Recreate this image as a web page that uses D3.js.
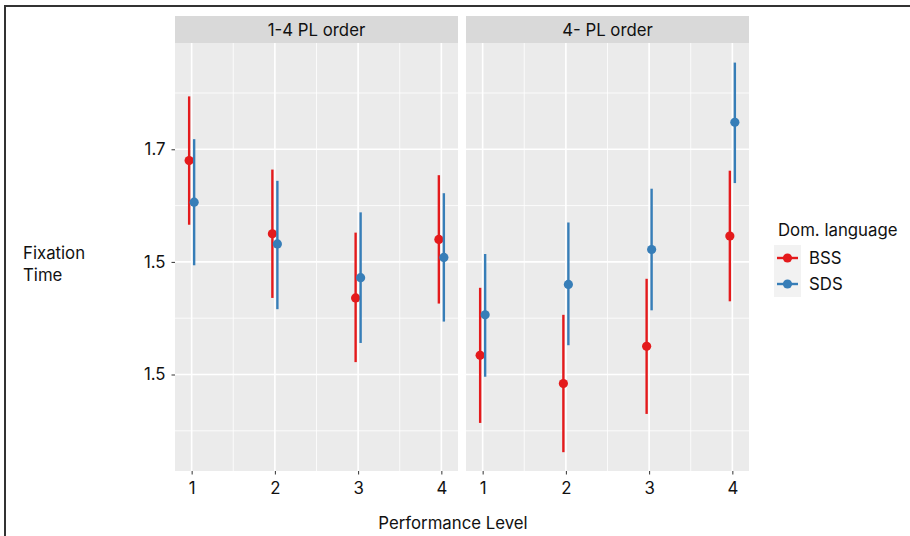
<!DOCTYPE html>
<html><head><meta charset="utf-8">
<script src="https://cdn.jsdelivr.net/npm/d3@7"></script>
<style>body{margin:0;background:#fff}</style>
</head><body>
<svg id="c" width="910" height="536"></svg>
<script>
const panels = ["1-4 PL order", "4- PL order"];
const levels = [1, 2, 3, 4];
const groups = ["BSS", "SDS"];
const colors = ["#E41A1C", "#377EB8"];
// panel 1
const bss1 = [1.690, 1.625, 1.568, 1.620];
const bss1Lo = [1.633, 1.568, 1.511, 1.563];
const bss1Hi = [1.747, 1.682, 1.626, 1.677];
const sds1 = [1.653, 1.616, 1.586, 1.604];
const sds1Lo = [1.597, 1.558, 1.528, 1.547];
const sds1Hi = [1.709, 1.672, 1.644, 1.661];
// panel 2
const bss2 = [1.517, 1.492, 1.525, 1.623];
const bss2Lo = [1.457, 1.431, 1.465, 1.565];
const bss2Hi = [1.577, 1.553, 1.585, 1.681];
const sds2 = [1.553, 1.580, 1.611, 1.724];
const sds2Lo = [1.498, 1.526, 1.557, 1.670];
const sds2Hi = [1.607, 1.635, 1.665, 1.777];
const yTickVals = [1.7, 1.6, 1.5];
const yTickLabels = ["1.7", "1.5", "1.5"];
const yMinorVals = [1.75, 1.65, 1.55, 1.45];

const data = [
  [{m: bss1, lo: bss1Lo, hi: bss1Hi}, {m: sds1, lo: sds1Lo, hi: sds1Hi}],
  [{m: bss2, lo: bss2Lo, hi: bss2Hi}, {m: sds2, lo: sds2Lo, hi: sds2Hi}]
];

const font = "Inter, 'Noto Sans', sans-serif";
const fs = 16.8;
const tc = "#111";
const svg = d3.select("#c");
svg.append("line").attr("x1",5).attr("x2",5).attr("y1",5).attr("y2",536).attr("stroke","#333").attr("stroke-width",2);
svg.append("line").attr("x1",4).attr("x2",910).attr("y1",6).attr("y2",6).attr("stroke","#333").attr("stroke-width",2);

const pTop = 43, pBottom = 471;
const y = d3.scaleLinear().domain([1.4143, 1.7944]).range([pBottom, pTop]);
const panelX = [[175, 458], [466, 749]];
const dodge = [-0.03, 0.03];

panels.forEach((p, pi) => {
  const [x0, x1] = panelX[pi];
  const x = d3.scaleLinear().domain([0.8, 4.2]).range([x0, x1]);
  const g = svg.append("g");
  g.append("rect").attr("x", x0).attr("y", pTop).attr("width", x1 - x0).attr("height", pBottom - pTop).attr("fill", "#EBEBEB");
  g.append("rect").attr("x", x0).attr("y", 16).attr("width", x1 - x0).attr("height", pTop - 16).attr("fill", "#D9D9D9");
  g.append("text").attr("x", (x0 + x1) / 2).attr("y", 30).attr("dy", "0.35em").attr("text-anchor", "middle")
    .attr("font-family", font).attr("font-size", fs).attr("fill", tc).text(p);
  // minor grid
  g.selectAll(".ymin").data(yMinorVals).join("line").attr("class", "ymin").attr("x1", x0).attr("x2", x1)
    .attr("y1", d => y(d)).attr("y2", d => y(d)).attr("stroke", "#fff").attr("stroke-width", 0.8);
  g.selectAll(".xmin").data([1.5, 2.5, 3.5]).join("line").attr("class", "xmin").attr("y1", pTop).attr("y2", pBottom)
    .attr("x1", d => x(d)).attr("x2", d => x(d)).attr("stroke", "#fff").attr("stroke-width", 0.8);
  // major grid
  g.selectAll(".ymaj").data(yTickVals).join("line").attr("class", "ymaj").attr("x1", x0).attr("x2", x1)
    .attr("y1", d => y(d)).attr("y2", d => y(d)).attr("stroke", "#fff").attr("stroke-width", 1.6);
  g.selectAll(".xmaj").data(levels).join("line").attr("class", "xmaj").attr("y1", pTop).attr("y2", pBottom)
    .attr("x1", d => x(d)).attr("x2", d => x(d)).attr("stroke", "#fff").attr("stroke-width", 1.6);
  // x axis
  const xa = svg.append("g").attr("transform", `translate(0,${pBottom})`)
    .call(d3.axisBottom(x).tickValues(levels).tickFormat(d3.format("d")).tickSize(3.5).tickPadding(8));
  xa.select(".domain").remove();
  xa.selectAll("line").attr("stroke", "#333");
  xa.selectAll("text").attr("font-family", font).attr("font-size", fs).attr("fill", tc);
  // data
  groups.forEach((gname, gi) => {
    const s = data[pi][gi];
    const gg = g.append("g");
    gg.selectAll("line.e").data(levels).join("line").attr("class", "e")
      .attr("x1", d => x(d + dodge[gi])).attr("x2", d => x(d + dodge[gi]))
      .attr("y1", (d, i) => y(s.lo[i])).attr("y2", (d, i) => y(s.hi[i]))
      .attr("stroke", colors[gi]).attr("stroke-width", 2.4);
    gg.selectAll("circle").data(levels).join("circle")
      .attr("cx", d => x(d + dodge[gi])).attr("cy", (d, i) => y(s.m[i])).attr("r", 4.6)
      .attr("fill", colors[gi]);
  });
});

// y axis
const ya = svg.append("g").attr("transform", `translate(${panelX[0][0]},0)`)
  .call(d3.axisLeft(y).tickValues(yTickVals).tickFormat((d, i) => yTickLabels[i]).tickSize(3.5).tickPadding(6));
ya.select(".domain").remove();
ya.selectAll("line").attr("stroke", "#333");
ya.selectAll("text").attr("font-family", font).attr("font-size", fs).attr("fill", tc);

// axis titles
svg.append("text").attr("x", 453).attr("y", 523).attr("dy", "0.35em")
  .attr("text-anchor", "middle").attr("font-family", font).attr("font-size", fs).attr("fill", tc).text("Performance Level");
const yt = svg.append("text").attr("font-family", font).attr("font-size", fs).attr("fill", tc);
yt.append("tspan").attr("x", 23).attr("y", 253).attr("dy", "0.35em").text("Fixation");
yt.append("tspan").attr("x", 23).attr("y", 275).attr("dy", "0.35em").text("Time");

// legend
const lg = svg.append("g");
lg.append("text").attr("x", 778).attr("y", 230).attr("dy", "0.35em").attr("font-family", font).attr("font-size", fs)
  .attr("fill", tc).text("Dom. language");
groups.forEach((gname, gi) => {
  const cy = 258 + gi * 26;
  lg.append("rect").attr("x", 774).attr("y", cy - 13).attr("width", 27).attr("height", 26).attr("fill", "#F2F2F2");
  lg.append("line").attr("x1", 777).attr("x2", 798).attr("y1", cy).attr("y2", cy).attr("stroke", colors[gi]).attr("stroke-width", 2.4);
  lg.append("circle").attr("cx", 787.5).attr("cy", cy).attr("r", 4.6).attr("fill", colors[gi]);
  lg.append("text").attr("x", 809).attr("y", cy).attr("dy", "0.35em").attr("font-family", font).attr("font-size", fs)
    .attr("fill", tc).text(gname);
});
</script>
</body></html>
